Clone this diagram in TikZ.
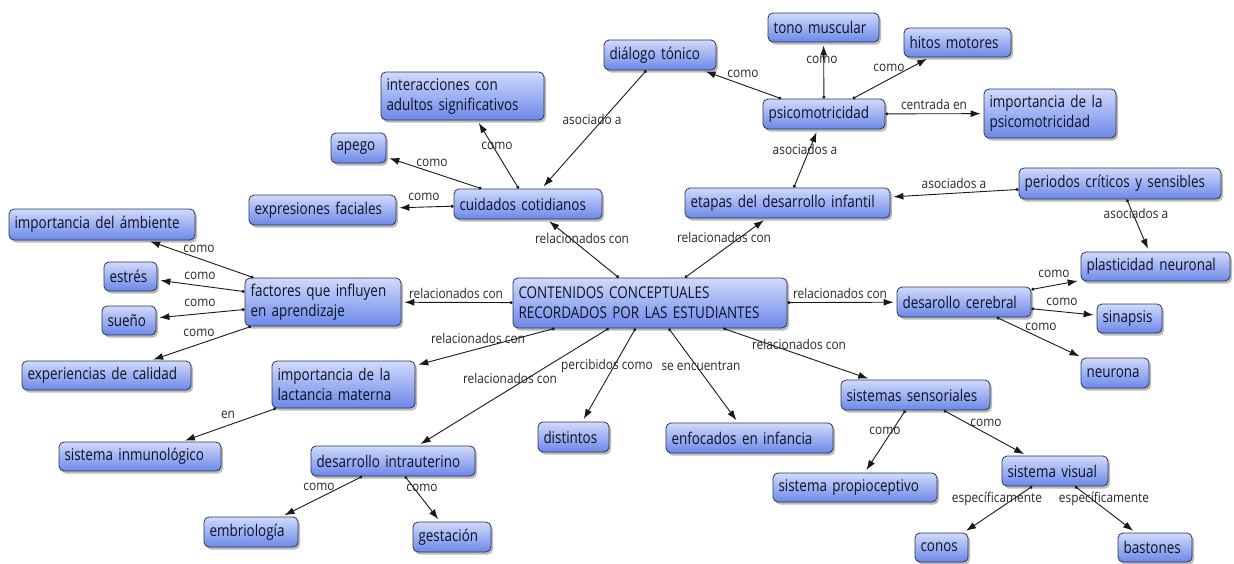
\documentclass[tikz,border=0pt]{standalone}
\usepackage{fontspec}
\setmainfont{Open Sans}[FakeStretch=0.83]
\newfontfamily\lblfont{Open Sans}[FakeStretch=0.88]
\usetikzlibrary{arrows.meta,shadows}

\definecolor{boxtop}{RGB}{208,218,252}
\definecolor{boxbot}{RGB}{108,136,232}
\definecolor{boxedge}{RGB}{44,54,82}
\definecolor{boxtext}{RGB}{14,18,36}
\definecolor{lbltext}{RGB}{40,40,40}
\definecolor{linkcol}{RGB}{25,25,25}

\tikzset{
  concept/.style={draw=boxedge, line width=0.8pt, rounded corners=5pt,
    top color=boxtop, bottom color=boxbot,
    drop shadow={shadow xshift=2pt, shadow yshift=-2.5pt, opacity=0.45, fill=black!60},
    font=\fontsize{16.2}{20}\selectfont,
    execute at begin node={\hyphenpenalty=10000\relax},
    text=boxtext, align=left, inner xsep=5.5pt, inner ysep=3pt},
  lbl/.style={font=\lblfont\fontsize{13.5}{15}\selectfont, text=lbltext, inner sep=0pt},
  link/.style={draw=linkcol, line width=0.9pt,
    arrows={Circle[length=3pt]-Latex[length=10pt, width=7pt]}, shorten >=3pt}
}

\begin{document}
\begin{tikzpicture}[x=1pt, y=-1pt]
\useasboundingbox (0,0) rectangle (1234,563);
\fill[white] (0,0) rectangle (1234,563);

% concepts (text width = box width - 11pt)
\node[concept, text width=100pt, minimum height=29pt] (tono) at (823.5,27.5) {tono muscular};
\node[concept, text width=96pt, minimum height=29pt] (hitos) at (957.5,42.5) {hitos motores};
\node[concept, text width=101pt, minimum height=30pt] (dialogo) at (660,55) {diálogo tónico};
\node[concept, text width=111pt, minimum height=30pt] (psico) at (824,114) {psicomotricidad};
\node[concept, text width=121pt, minimum height=49pt] (imppsico) at (1050,113.5) {importancia de la\\psicomotricidad};
\node[concept, text width=152pt, minimum height=48pt] (interac) at (462.5,96) {interacciones con\\adultos significativos};
\node[concept, text width=44pt, minimum height=30pt] (apego) at (358.5,148) {apego};
\node[concept, text width=136pt, minimum height=30pt] (expres) at (322.5,210) {expresiones faciales};
\node[concept, text width=137pt, minimum height=30pt] (cuidados) at (528,204) {cuidados cotidianos};
\node[concept, text width=194pt, minimum height=30pt] (etapas) at (787.5,203) {etapas del desarrollo infantil};
\node[concept, text width=191pt, minimum height=31pt] (periodos) at (1120,183.5) {periodos críticos y sensibles};
\node[concept, text width=138pt, minimum height=29pt] (plasticidad) at (1155.5,266.5) {plasticidad neuronal};
\node[concept, text width=123pt, minimum height=30pt] (cerebral) at (964,302) {desarollo cerebral};
\node[concept, text width=54pt, minimum height=29pt] (sinapsis) at (1129.5,318.5) {sinapsis};
\node[concept, text width=57pt, minimum height=30pt] (neurona) at (1115,373) {neurona};
\node[concept, text width=263pt, minimum height=50pt] (contenidos) at (650,303) {CONTENIDOS CONCEPTUALES\\RECORDADOS POR LAS ESTUDIANTES};
\node[concept, text width=175pt, minimum height=31pt] (ambiente) at (102,224.5) {importancia del ámbiente};
\node[concept, text width=42pt, minimum height=29pt] (estres) at (130.5,276.5) {estrés};
\node[concept, text width=43pt, minimum height=29pt] (sueno) at (129,320.5) {sueño};
\node[concept, text width=145pt, minimum height=48pt] (factores) at (323,302) {factores que influyen\\en aprendizaje};
\node[concept, text width=158pt, minimum height=29pt] (experiencias) at (106.5,375.5) {experiencias de calidad};
\node[concept, text width=132pt, minimum height=47pt] (lactancia) at (343.5,384.5) {importancia de la\\lactancia materna};
\node[concept, text width=151pt, minimum height=29pt] (inmuno) at (140,456.5) {sistema inmunológico};
\node[concept, text width=153pt, minimum height=30pt] (intrauterino) at (393,461) {desarrollo intrauterino};
\node[concept, text width=83pt, minimum height=30pt] (embrio) at (251,532) {embriología};
\node[concept, text width=67pt, minimum height=30pt] (gestacion) at (452,537) {gestación};
\node[concept, text width=60pt, minimum height=30pt] (distintos) at (573.5,437) {distintos};
\node[concept, text width=156pt, minimum height=30pt] (enfocados) at (749.5,438) {enfocados en infancia};
\node[concept, text width=138pt, minimum height=30pt] (sensoriales) at (915.5,395) {sistemas sensoriales};
\node[concept, text width=153pt, minimum height=29pt] (propio) at (855,487.5) {sistema propioceptivo};
\node[concept, text width=95pt, minimum height=30pt] (visual) at (1055,471) {sistema visual};
\node[concept, text width=42pt, minimum height=29pt] (conos) at (941.5,547.5) {conos};
\node[concept, text width=63pt, minimum height=29pt] (bastones) at (1155,547.5) {bastones};

% links
\draw[link] (contenidos) -- (cuidados);
\draw[link] (contenidos) -- (etapas);
\draw[link] (contenidos) -- (factores);
\draw[link] (contenidos) -- (cerebral);
\draw[link] (contenidos) -- (lactancia);
\draw[link] (contenidos) -- (intrauterino);
\draw[link] (contenidos) -- (distintos);
\draw[link] (contenidos) -- (enfocados);
\draw[link] (contenidos) -- (sensoriales);
\draw[link] (cuidados) -- (interac);
\draw[link] (cuidados) -- (apego);
\draw[link] (cuidados) -- (expres);
\draw[link] (dialogo) -- (cuidados);
\draw[link] (psico) -- (dialogo);
\draw[link] (psico) -- (tono);
\draw[link] (psico) -- (hitos);
\draw[link] (psico) -- (imppsico);
\draw[link] (etapas) -- (psico);
\draw[link] (periodos) -- (etapas);
\draw[link] (periodos) -- (plasticidad);
\draw[link] (cerebral) -- (plasticidad);
\draw[link] (cerebral) -- (sinapsis);
\draw[link] (cerebral) -- (neurona);
\draw[link] (factores) -- (ambiente);
\draw[link] (factores) -- (estres);
\draw[link] (factores) -- (sueno);
\draw[link] (factores) -- (experiencias);
\draw[link] (lactancia) -- (inmuno);
\draw[link] (intrauterino) -- (embrio);
\draw[link] (intrauterino) -- (gestacion);
\draw[link] (sensoriales) -- (propio);
\draw[link] (sensoriales) -- (visual);
\draw[link] (visual) -- (conos);
\draw[link] (visual) -- (bastones);

% link labels
\node[lbl] (l1) at (582,238) {relacionados con};
\node[lbl] (l2) at (724,237) {relacionados con};
\node[lbl] (l3) at (456,293) {relacionados con};
\node[lbl] (l4) at (840,293) {relacionados con};
\node[lbl] (l5) at (478,338) {relacionados con};
\node[lbl] (l6) at (510,378) {relacionados con};
\node[lbl] (l7) at (607,366) {percibidos como};
\node[lbl] (l8) at (701,366) {se encuentran};
\node[lbl] (l9) at (799,344) {relacionados con};
\node[lbl] (l10) at (497,146) {como};
\node[lbl] (l11) at (432,163) {como};
\node[lbl] (l12) at (424,197) {como};
\node[lbl] (l13) at (592,119) {asociado a};
\node[lbl] (l14) at (743,74) {como};
\node[lbl] (l15) at (822,60) {como};
\node[lbl] (l16) at (889,68) {como};
\node[lbl] (l17) at (934,104) {centrada en};
\node[lbl] (l18) at (805,149) {asociados a};
\node[lbl] (l19) at (954,183) {asociados a};
\node[lbl] (l20) at (1136,213) {asociados a};
\node[lbl] (l21) at (1054,274) {como};
\node[lbl] (l22) at (1062,302) {como};
\node[lbl] (l23) at (1041,327) {como};
\node[lbl] (l24) at (199,249) {como};
\node[lbl] (l25) at (200,276) {como};
\node[lbl] (l26) at (200,303) {como};
\node[lbl] (l27) at (199,333) {como};
\node[lbl] (l28) at (228,415) {en};
\node[lbl] (l29) at (319,487) {como};
\node[lbl] (l30) at (422,488) {como};
\node[lbl] (l31) at (885,431) {como};
\node[lbl] (l32) at (986,423) {como};
\node[lbl] (l33) at (997,499) {específicamente};
\node[lbl] (l34) at (1104,499) {específicamente};
\end{tikzpicture}
\end{document}
